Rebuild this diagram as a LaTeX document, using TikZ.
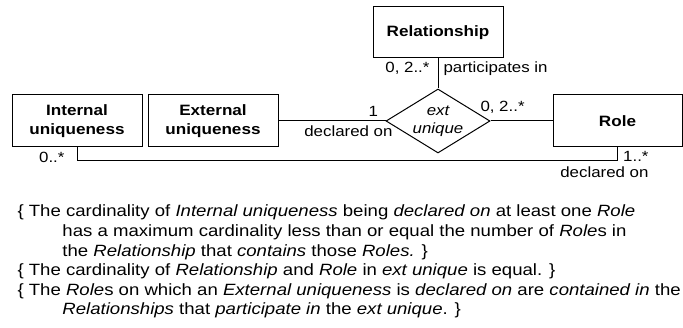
\documentclass[tikz,border=0pt]{standalone}
\usepackage{fontspec}
\setmainfont{Liberation Sans}[FakeStretch=1.14]
\usetikzlibrary{positioning, shapes.geometric}

\begin{document}
\begin{tikzpicture}[
    x=1pt, y=-1pt,
    line width=1pt,
    entity/.style={draw, rectangle, minimum width=130pt, minimum height=52pt,
        inner sep=2pt, align=center, font=\fontsize{15}{19}\selectfont\bfseries},
    assoc/.style={draw, diamond, aspect=1.625, inner sep=0pt,
        minimum width=104pt, minimum height=64pt, align=center,
        font=\fontsize{14.8}{18}\selectfont\itshape},
    card/.style={font=\fontsize{14.8}{17}\selectfont, inner sep=1.5pt},
    note/.style={font=\fontsize{16.3}{19.6}\selectfont, align=left, inner sep=0pt},
]

\useasboundingbox (0,0) rectangle (683,328);

% === Entities ===
\node[entity] (intu) at (77,121) {Internal\\uniqueness};
\node[entity] (extu) at (213,121) {External\\uniqueness};
\node[entity, minimum height=51pt] (rel) at (438,32.5) {Relationship};
\node[entity, minimum width=129pt] (role) at (617.5,121) {Role};

% === Relationship ===
\node[assoc] (extuq) at (438,121) {ext\\unique};

% === Connectors ===
\draw (extu) -- (extuq);
\draw (rel) -- (extuq);
\draw (extuq) -- (role);
\draw (intu.south) -- ++(0,13) -| (role.south);

% === Cardinalities and roles ===
\node[card, anchor=base east] (cone) at (380,117) {1};
\node[card, anchor=base east] (cdecl) at (394.5,137) {declared on};
\node[card, anchor=base east] (crel) at (431.5,73) {0, 2..*};
\node[card, anchor=base west] (cpart) at (441.5,73) {participates in};
\node[card, anchor=base west] (crole) at (478.5,112) {0, 2..*};
\node[card, anchor=base east] (cint) at (66.5,163) {0..*};
\node[card, anchor=base east] (cmany) at (650.5,162) {1..*};
\node[card, anchor=base east] (cdecl2) at (650.5,178) {declared on};

% === Constraints ===
\node[note, anchor=north west] (notes) at (17,204.5) {%
    \{ The cardinality of \textit{Internal uniqueness} being \textit{declared on} at least one \textit{Role}\\
    \hspace*{45pt}has a maximum cardinality less than or equal the number of \textit{Role}s in\\
    \hspace*{45pt}the \textit{Relationship} that \textit{contains} those \textit{Roles.} \}\\
    \{ The cardinality of \textit{Relationship} and \textit{Role} in \textit{ext unique} is equal. \}\\
    \{ The \textit{Role}s on which an \textit{External uniqueness} is \textit{declared on} are \textit{contained in} the\\
    \hspace*{45pt}\textit{Relationships} that \textit{participate in} the \textit{ext unique}. \}};

\end{tikzpicture}
\end{document}
